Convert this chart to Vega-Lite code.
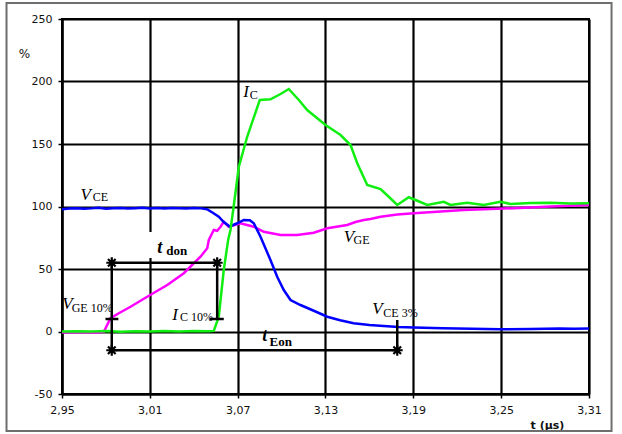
{
  "$schema": "https://vega.github.io/schema/vega-lite/v6.json",
  "width": 527,
  "height": 375,
  "autosize": {"type": "none"},
  "padding": {"left": 62, "top": 19, "right": 33, "bottom": 40},
  "background": "white",
  "config": {
    "view": {"stroke": "black", "strokeWidth": 2},
    "axis": {
      "grid": true, "gridColor": "black", "gridWidth": 2.2, "gridOpacity": 1,
      "domain": true, "domainColor": "black", "domainWidth": 2.2,
      "ticks": true, "tickColor": "black", "tickWidth": 1.5, "tickSize": 4,
      "labelFont": "DejaVu Sans", "labelFontSize": 11, "labelColor": "#111",
      "labelPadding": 6, "titleFont": "DejaVu Sans", "titleColor": "#111"
    }
  },
  "datasets": {
    "vce": [
      {"t": 2.95, "v": 97.8}, {"t": 2.955, "v": 98.4}, {"t": 2.96, "v": 98.6}, {"t": 2.965, "v": 98.3},
      {"t": 2.97, "v": 98.5}, {"t": 2.975, "v": 98.9}, {"t": 2.98, "v": 98.3}, {"t": 2.985, "v": 98.6},
      {"t": 2.99, "v": 98.8}, {"t": 2.995, "v": 98.4}, {"t": 3.0, "v": 98.6}, {"t": 3.005, "v": 98.9},
      {"t": 3.01, "v": 98.5}, {"t": 3.015, "v": 98.7}, {"t": 3.02, "v": 98.4}, {"t": 3.025, "v": 98.8},
      {"t": 3.03, "v": 98.6}, {"t": 3.035, "v": 98.5}, {"t": 3.04, "v": 98.8}, {"t": 3.045, "v": 98.5},
      {"t": 3.049, "v": 97.8}, {"t": 3.053, "v": 95.0}, {"t": 3.0571, "v": 91.8}, {"t": 3.0603, "v": 87.8},
      {"t": 3.0646, "v": 84.0}, {"t": 3.0697, "v": 86.6}, {"t": 3.0742, "v": 89.2}, {"t": 3.0783, "v": 89.0},
      {"t": 3.081, "v": 86.6}, {"t": 3.0856, "v": 75.8}, {"t": 3.0924, "v": 57.2}, {"t": 3.097, "v": 43.8},
      {"t": 3.1015, "v": 33.2}, {"t": 3.1061, "v": 25.2}, {"t": 3.1129, "v": 21.2}, {"t": 3.122, "v": 16.6},
      {"t": 3.1312, "v": 11.8}, {"t": 3.14, "v": 9.0}, {"t": 3.1492, "v": 6.6}, {"t": 3.16, "v": 5.2},
      {"t": 3.1697, "v": 4.4}, {"t": 3.18, "v": 3.6}, {"t": 3.1902, "v": 3.2}, {"t": 3.21, "v": 2.6},
      {"t": 3.23, "v": 2.2}, {"t": 3.2495, "v": 1.8}, {"t": 3.27, "v": 2.0}, {"t": 3.29, "v": 2.4},
      {"t": 3.3, "v": 2.2}, {"t": 3.31, "v": 2.4}
    ],
    "ic": [
      {"t": 2.95, "v": 0.0}, {"t": 2.96, "v": 0.2}, {"t": 2.97, "v": 0.0}, {"t": 2.98, "v": 0.3},
      {"t": 2.99, "v": -0.2}, {"t": 3.0, "v": 0.2}, {"t": 3.01, "v": 0.0}, {"t": 3.02, "v": 0.3},
      {"t": 3.03, "v": 0.1}, {"t": 3.04, "v": 0.4}, {"t": 3.05, "v": 0.2}, {"t": 3.0537, "v": 0.5},
      {"t": 3.0571, "v": 11.8}, {"t": 3.0605, "v": 49.2}, {"t": 3.0635, "v": 73.2}, {"t": 3.0651, "v": 81.2},
      {"t": 3.0674, "v": 101.2}, {"t": 3.0708, "v": 131.8}, {"t": 3.0765, "v": 155.8}, {"t": 3.0851, "v": 185.2},
      {"t": 3.0924, "v": 185.8}, {"t": 3.0993, "v": 190.0}, {"t": 3.1049, "v": 194.0}, {"t": 3.1118, "v": 185.2},
      {"t": 3.1175, "v": 177.2}, {"t": 3.13, "v": 165.2}, {"t": 3.1403, "v": 157.2}, {"t": 3.1471, "v": 149.2},
      {"t": 3.1517, "v": 134.6}, {"t": 3.1585, "v": 117.2}, {"t": 3.1676, "v": 114.0}, {"t": 3.1732, "v": 107.8},
      {"t": 3.179, "v": 101.2}, {"t": 3.1869, "v": 107.4}, {"t": 3.1915, "v": 105.2}, {"t": 3.1995, "v": 101.2},
      {"t": 3.2108, "v": 103.8}, {"t": 3.2154, "v": 101.2}, {"t": 3.2268, "v": 103.0}, {"t": 3.2381, "v": 101.2},
      {"t": 3.2495, "v": 103.8}, {"t": 3.2564, "v": 102.0}, {"t": 3.27, "v": 102.8}, {"t": 3.2837, "v": 103.0},
      {"t": 3.2974, "v": 102.4}, {"t": 3.31, "v": 102.6}
    ],
    "vge": [
      {"t": 2.95, "v": -0.8}, {"t": 2.9626, "v": -0.4}, {"t": 2.9729, "v": -0.8}, {"t": 2.9786, "v": -0.2},
      {"t": 2.9831, "v": 10.6}, {"t": 2.9888, "v": 14.6}, {"t": 2.9968, "v": 19.8}, {"t": 3.0082, "v": 27.8},
      {"t": 3.0219, "v": 37.2}, {"t": 3.0332, "v": 46.6}, {"t": 3.0446, "v": 59.8}, {"t": 3.0492, "v": 66.6},
      {"t": 3.0503, "v": 73.2}, {"t": 3.0537, "v": 81.2}, {"t": 3.056, "v": 80.6}, {"t": 3.0583, "v": 83.8},
      {"t": 3.0605, "v": 87.8}, {"t": 3.0639, "v": 83.8}, {"t": 3.0719, "v": 86.6}, {"t": 3.081, "v": 83.8},
      {"t": 3.0879, "v": 79.8}, {"t": 3.0993, "v": 77.2}, {"t": 3.1107, "v": 77.2}, {"t": 3.122, "v": 79.0},
      {"t": 3.1312, "v": 82.6}, {"t": 3.1448, "v": 85.2}, {"t": 3.1505, "v": 87.6}, {"t": 3.1562, "v": 89.2},
      {"t": 3.1607, "v": 90.0}, {"t": 3.1676, "v": 91.8}, {"t": 3.179, "v": 93.6}, {"t": 3.1903, "v": 94.6},
      {"t": 3.2086, "v": 96.0}, {"t": 3.2245, "v": 97.2}, {"t": 3.2427, "v": 98.0}, {"t": 3.2586, "v": 98.6},
      {"t": 3.2837, "v": 100.0}, {"t": 3.31, "v": 101.2}
    ],
    "rules": [
      {"t": 2.984, "t2": 3.056, "v": 55, "v2": 55},
      {"t": 2.984, "t2": 3.179, "v": -15, "v2": -15},
      {"t": 2.984, "t2": 2.984, "v": 55, "v2": -15},
      {"t": 3.056, "t2": 3.056, "v": 55, "v2": 10},
      {"t": 3.179, "t2": 3.179, "v": 9.2, "v2": -15},
      {"t": 2.9797, "t2": 2.9885, "v": 10, "v2": 10},
      {"t": 3.051, "t2": 3.0605, "v": 10, "v2": 10}
    ],
    "stars": [
      {"t": 2.984, "v": 55}, {"t": 3.056, "v": 55}, {"t": 2.984, "v": -15}, {"t": 3.179, "v": -15}
    ],
    "frame": [{"t": 2.9121, "t2": 3.3254, "v": 262.8, "v2": -79.6}],
    "mask": [{"t": 3.0091, "t2": 3.0378, "v": 79.6, "v2": 58.8}],
    "labels": [
      {"t": 2.9626, "v": 105.6, "text": "V", "style": "main"},
      {"t": 2.971, "v": 104.4, "text": "CE", "style": "sub"},
      {"t": 3.0738, "v": 187.8, "text": "I", "style": "main"},
      {"t": 3.0782, "v": 185.8, "text": "C", "style": "sub"},
      {"t": 3.1425, "v": 71.4, "text": "V", "style": "main"},
      {"t": 3.1492, "v": 69.8, "text": "GE", "style": "sub"},
      {"t": 2.9501, "v": 17.8, "text": "V", "style": "main"},
      {"t": 2.9566, "v": 15.8, "text": "GE 10%", "style": "sub"},
      {"t": 3.0253, "v": 9.2, "text": "I", "style": "main"},
      {"t": 3.0306, "v": 8.6, "text": "C 10%", "style": "sub"},
      {"t": 3.1619, "v": 14.0, "text": "V", "style": "main"},
      {"t": 3.1695, "v": 11.8, "text": "CE 3%", "style": "sub"},
      {"t": 3.015, "v": 62.6, "text": "t", "style": "bmain"},
      {"t": 3.0212, "v": 61.6, "text": "don", "style": "bsub"},
      {"t": 3.0868, "v": -7.6, "text": "t", "style": "bmain"},
      {"t": 3.0918, "v": -11.6, "text": "Eon", "style": "bsub"}
    ]
  },
  "encoding": {
    "x": {"field": "t", "type": "quantitative",
      "scale": {"domain": [2.95, 3.31], "nice": false, "zero": false},
      "axis": {"values": [2.95, 3.01, 3.07, 3.13, 3.19, 3.25, 3.31],
        "labelExpr": "replace(format(datum.value, '.2f'), '.', ',')",
        "labelFlush": false, "title": "t (µs)", "titleFontWeight": "bold", "titleFontSize": 11,
        "titleX": 485, "titleY": 31, "titleAlign": "center", "titleBaseline": "middle"}},
    "y": {"field": "v", "type": "quantitative",
      "scale": {"domain": [-50, 250], "nice": false, "zero": false},
      "axis": {"values": [-50, 0, 50, 100, 150, 200, 250],
        "labelExpr": "'' + datum.value", "title": "%", "titleAngle": 0,
        "titleFontWeight": "normal", "titleFontSize": 12,
        "titleX": -38, "titleY": 34, "titleAlign": "center", "titleBaseline": "middle"}}
  },
  "layer": [
    {
      "data": {"name": "vge"},
      "mark": {"type": "line", "color": "#ff00ff", "strokeWidth": 2.5}
    },
    {
      "data": {"name": "vce"},
      "mark": {"type": "line", "color": "#0000ff", "strokeWidth": 2.5}
    },
    {
      "data": {"name": "ic"},
      "mark": {"type": "line", "color": "#11ee11", "strokeWidth": 2.5}
    },
    {
      "data": {"name": "mask"},
      "mark": {"type": "rect", "fill": "white"},
      "encoding": {"x2": {"field": "t2"}, "y2": {"field": "v2"}}
    },
    {
      "data": {"name": "rules"},
      "mark": {"type": "rule", "color": "black", "strokeWidth": 2.5},
      "encoding": {"x2": {"field": "t2"}, "y2": {"field": "v2"}}
    },
    {
      "data": {"name": "stars"},
      "mark": {"type": "point", "shape": "M-1,0L1,0M0,-1L0,1M-0.7,-0.7L0.7,0.7M-0.7,0.7L0.7,-0.7",
        "filled": false, "stroke": "black", "strokeWidth": 2.2, "size": 120, "opacity": 1}
    },
    {
      "data": {"name": "labels"},
      "transform": [{"filter": "datum.style === 'main'"}],
      "mark": {"type": "text", "font": "Liberation Serif", "fontStyle": "italic", "fontSize": 17,
        "align": "left", "baseline": "alphabetic", "color": "black"},
      "encoding": {"text": {"field": "text"}}
    },
    {
      "data": {"name": "labels"},
      "transform": [{"filter": "datum.style === 'sub'"}],
      "mark": {"type": "text", "font": "Liberation Serif", "fontSize": 12,
        "align": "left", "baseline": "alphabetic", "color": "black"},
      "encoding": {"text": {"field": "text"}}
    },
    {
      "data": {"name": "labels"},
      "transform": [{"filter": "datum.style === 'bmain'"}],
      "mark": {"type": "text", "font": "Liberation Serif", "fontStyle": "italic", "fontWeight": "bold", "fontSize": 18,
        "align": "left", "baseline": "alphabetic", "color": "black"},
      "encoding": {"text": {"field": "text"}}
    },
    {
      "data": {"name": "labels"},
      "transform": [{"filter": "datum.style === 'bsub'"}],
      "mark": {"type": "text", "font": "Liberation Serif", "fontWeight": "bold", "fontSize": 13,
        "align": "left", "baseline": "alphabetic", "color": "black"},
      "encoding": {"text": {"field": "text"}}
    },
    {
      "data": {"name": "frame"},
      "mark": {"type": "rect", "fill": null, "fillOpacity": 0, "stroke": "#6e6e6e", "strokeWidth": 2, "clip": false},
      "encoding": {"x2": {"field": "t2"}, "y2": {"field": "v2"}}
    }
  ]
}
